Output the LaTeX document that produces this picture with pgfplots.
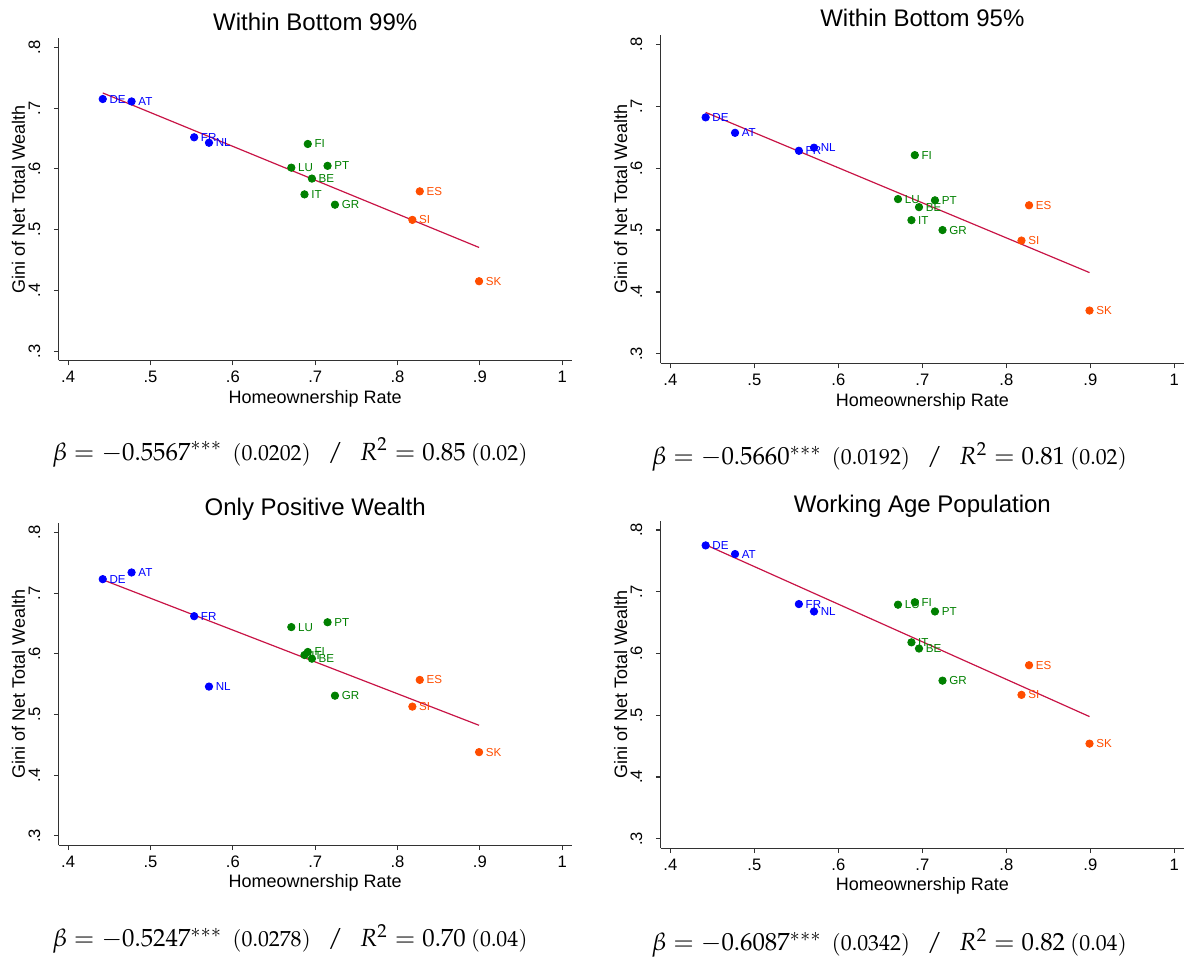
\documentclass[border=0pt]{standalone}
\usepackage{mathpazo}
\usepackage[no-math]{fontspec}
\newfontfamily\arial{Liberation Sans}
\usepackage{pgfplots}
\pgfplotsset{compat=1.18}
\definecolor{cblue}{RGB}{0,0,255}
\definecolor{cgreen}{RGB}{0,128,0}
\definecolor{corange}{RGB}{255,77,0}
\definecolor{cline}{RGB}{200,20,70}
\definecolor{axgray}{RGB}{50,50,50}
\newcommand{\se}[1]{{\fontsize{10.9}{12}\selectfont$(#1)$}}
\newcommand{\reg}[4]{{\fontsize{12.4}{14}\selectfont $\beta = -#1^{***}$\hspace{5pt}\se{#2}\hspace{8.3pt}$/$\hspace{8.3pt}$R^2 = #3$\hspace{2.5pt}\se{#4}}}
\pgfplotsset{
  hpanel/.style={
    scale only axis, anchor=south west,
    xmin=0.3885, xmax=1.0115, ymin=0.2845, ymax=0.815,
    axis lines=left,
    axis line style={-, line width=0.55pt, axgray},
    xtick={0.4,0.5,0.6,0.7,0.8,0.9,1},
    xticklabels={.4,.5,.6,.7,.8,.9,1},
    ytick={0.3,0.4,0.5,0.6,0.7,0.8},
    yticklabels={.3,.4,.5,.6,.7,.8},
    tick align=outside,
    major tick length=2.4pt,
    every tick/.style={axgray, line width=0.55pt},
    tick label style={font=\arial\fontsize{8.3}{10}\selectfont, inner sep=0pt},
    xticklabel style={anchor=base, yshift=-8.6pt},
    yticklabel style={xshift=-6.85pt, rotate=90, anchor=base},
    every axis x label/.style={at={(axis description cs:0.5,0)}, yshift=-21.3pt, anchor=base, font=\arial\fontsize{9}{11}\selectfont},
    every axis y label/.style={at={(axis description cs:0,0.5)}, xshift=-16.85pt, rotate=90, anchor=base, font=\arial\fontsize{9}{11}\selectfont},
    every axis title/.style={at={(axis description cs:0.5,1)}, yshift=4.0pt, anchor=base, font=\arial\fontsize{12}{14}\selectfont},
    xlabel={Homeownership Rate},
    ylabel={Gini of Net Total Wealth},
    clip=false,
  },
  grp/.style={only marks, mark=*, mark size=1.85pt, color=#1, mark options={draw=#1, fill=#1},
    point meta=explicit symbolic, nodes near coords,
    nodes near coords style={anchor=west, xshift=3.2pt, inner sep=0pt, text=#1, font=\arial\fontsize{5.8}{7}\selectfont}},
  fit/.style={no marks, color=cline, line width=0.6pt},
}
\begin{document}
\begin{tikzpicture}
\path[use as bounding box] (0,0) rectangle (593pt,-480.5pt);
% ---------- Panel 1
\begin{axis}[hpanel, at={(29.35pt,-180.25pt)}, width=256.5pt, height=161.1pt, title={Within Bottom 99\%}]
\addplot[fit] coordinates {(0.442,0.725) (0.899,0.4706)};
\addplot[grp=cblue] table[meta=lab] {
x y lab
0.442 0.715 DE
0.477 0.711 AT
0.553 0.652 FR
0.571 0.643 NL
};
\addplot[grp=cgreen] table[meta=lab] {
x y lab
0.691 0.641 FI
0.671 0.602 LU
0.715 0.605 PT
0.696 0.584 BE
0.687 0.558 IT
0.724 0.541 GR
};
\addplot[grp=corange] table[meta=lab] {
x y lab
0.827 0.563 ES
0.818 0.516 SI
0.899 0.415 SK
};
\end{axis}
% ---------- Panel 2
\begin{axis}[hpanel, at={(330.35pt,-181.75pt)}, width=261.65pt, height=164.25pt, title={Within Bottom 95\%}]
\addplot[fit] coordinates {(0.442,0.690) (0.899,0.4313)};
\addplot[grp=cblue] table[meta=lab] {
x y lab
0.442 0.682 DE
0.477 0.657 AT
0.553 0.628 FR
0.571 0.633 NL
};
\addplot[grp=cgreen] table[meta=lab] {
x y lab
0.691 0.621 FI
0.671 0.550 LU
0.715 0.548 PT
0.696 0.537 BE
0.687 0.516 IT
0.724 0.500 GR
};
\addplot[grp=corange] table[meta=lab] {
x y lab
0.827 0.540 ES
0.818 0.483 SI
0.899 0.370 SK
};
\end{axis}
% ---------- Panel 3
\begin{axis}[hpanel, at={(29.35pt,-422.65pt)}, width=256.5pt, height=161pt, title={Only Positive Wealth}]
\addplot[fit] coordinates {(0.442,0.722) (0.899,0.4822)};
\addplot[grp=cblue] table[meta=lab] {
x y lab
0.442 0.723 DE
0.477 0.734 AT
0.553 0.662 FR
0.571 0.546 NL
};
\addplot[grp=cgreen] table[meta=lab] {
x y lab
0.671 0.644 LU
0.715 0.652 PT
0.691 0.603 FI
0.687 0.598 IT
0.696 0.592 BE
0.724 0.531 GR
};
\addplot[grp=corange] table[meta=lab] {
x y lab
0.827 0.557 ES
0.818 0.513 SI
0.899 0.438 SK
};
\end{axis}
% ---------- Panel 4
\begin{axis}[hpanel, at={(330.35pt,-424.15pt)}, width=261.65pt, height=163.8pt, title={Working Age Population}]
\addplot[fit] coordinates {(0.442,0.776) (0.899,0.4978)};
\addplot[grp=cblue] table[meta=lab] {
x y lab
0.442 0.775 DE
0.477 0.761 AT
0.553 0.680 FR
0.571 0.668 NL
};
\addplot[grp=cgreen] table[meta=lab] {
x y lab
0.671 0.679 LU
0.691 0.683 FI
0.715 0.668 PT
0.687 0.618 IT
0.696 0.608 BE
0.724 0.556 GR
};
\addplot[grp=corange] table[meta=lab] {
x y lab
0.827 0.581 ES
0.818 0.533 SI
0.899 0.454 SK
};
\end{axis}
% ---------- Regression summaries
\node[anchor=base, inner sep=0pt] at (145pt,-230pt) {\reg{0.5567}{0.0202}{0.85}{0.02}};
\node[anchor=base, inner sep=0pt] at (444.65pt,-232.5pt) {\reg{0.5660}{0.0192}{0.81}{0.02}};
\node[anchor=base, inner sep=0pt] at (145pt,-473pt) {\reg{0.5247}{0.0278}{0.70}{0.04}};
\node[anchor=base, inner sep=0pt] at (444.65pt,-475pt) {\reg{0.6087}{0.0342}{0.82}{0.04}};
\end{tikzpicture}
\end{document}
